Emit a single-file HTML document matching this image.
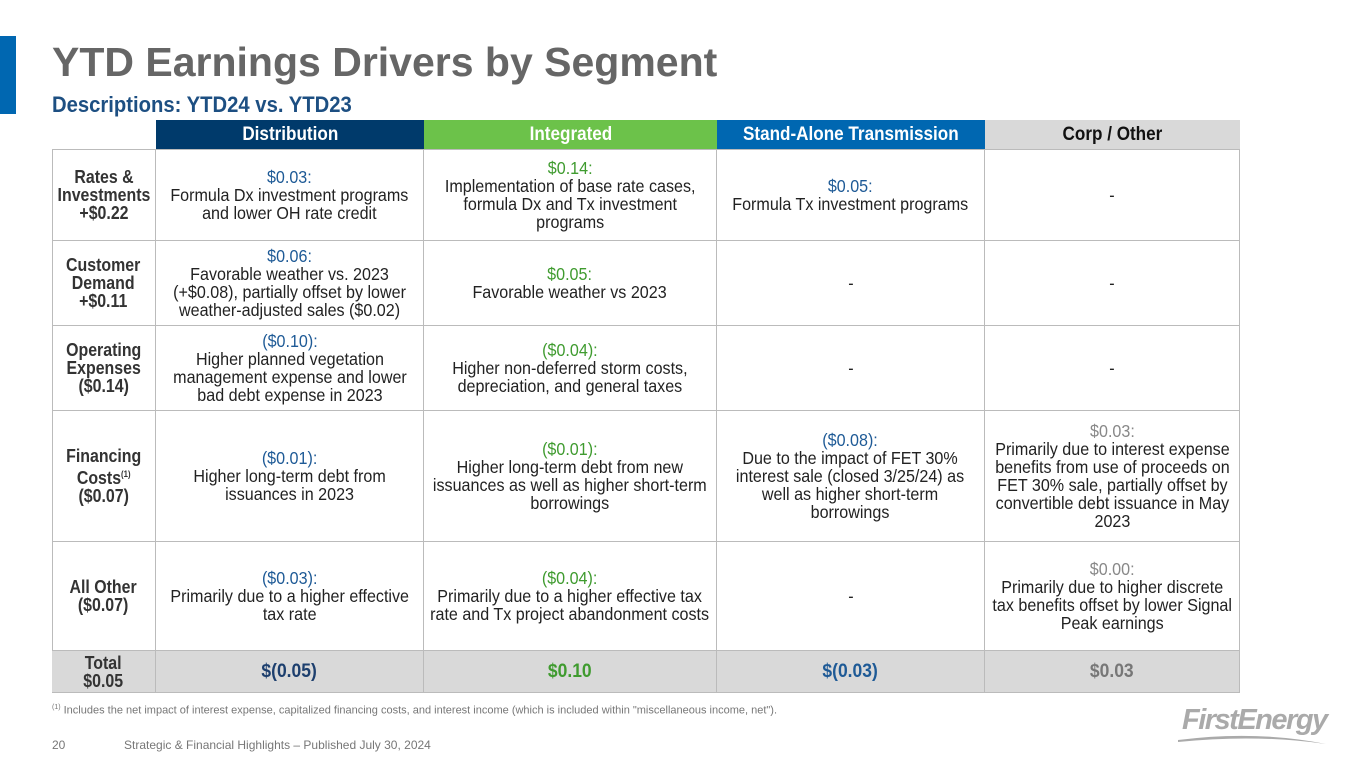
<!DOCTYPE html>
<html><head><meta charset="utf-8"><style>
*{margin:0;padding:0;box-sizing:border-box}
body{width:1365px;height:768px;background:#fff;position:relative;overflow:hidden;font-family:"Liberation Sans",sans-serif}
.a{position:absolute}
.c{position:absolute;display:flex;align-items:center;justify-content:center;text-align:center;font-size:17.5px;line-height:18px;color:#222;white-space:nowrap;border-right:1px solid #bbb;border-bottom:1px solid #bbb}
.c>div{transform:scaleX(0.92)}
.c span{display:block}
.h{font-weight:bold;font-size:19px;color:#fff;border:none}
.h>div{transform:scaleX(0.9)}
.l{font-weight:bold;font-size:18.5px;color:#333}
.l>div{transform:scaleX(0.86)}
.bl{color:#1e5a96}.gr{color:#3f9b2f}.gy{color:#888}
.t{background:#d9d9d9;font-weight:bold;font-size:19px}
</style></head><body>
<div class="a" style="left:0;top:36px;width:16px;height:78px;background:#0067b1"></div>
<div class="a" style="left:52px;top:39px;font-size:41px;font-weight:bold;color:#666">YTD Earnings Drivers by Segment</div>
<div class="a" style="left:52px;top:92px;font-size:22.5px;font-weight:bold;color:#1d4f82;transform:scaleX(0.9);transform-origin:left">Descriptions: YTD24 vs. YTD23</div>
<div id="tbl">
<div class="a" style="left:52px;top:149px;width:1px;height:544px;background:#bbb"></div>
<div class="c h" style="left:156px;top:120px;width:268px;height:29px;background:#003a6b"><div>Distribution</div></div>
<div class="c h" style="left:424px;top:120px;width:293px;height:29px;background:#6cc24a"><div>Integrated</div></div>
<div class="c h" style="left:717px;top:120px;width:268px;height:29px;background:#0067b1"><div>Stand-Alone Transmission</div></div>
<div class="c h" style="left:985px;top:120px;width:255px;height:29px;background:#d9d9d9;color:#111"><div>Corp / Other</div></div>

<div class="c l" style="left:52px;top:149px;width:104px;height:92px;border-top:1px solid #bbb"><div>Rates &amp;<br>Investments<br>+$0.22</div></div>
<div class="c" style="left:156px;top:149px;width:268px;height:92px;border-top:1px solid #bbb"><div><span class="bl">$0.03:</span>Formula Dx investment programs<br>and lower OH rate credit</div></div>
<div class="c" style="left:424px;top:149px;width:293px;height:92px;border-top:1px solid #bbb"><div><span class="gr">$0.14:</span>Implementation of base rate cases,<br>formula Dx and Tx investment<br>programs</div></div>
<div class="c" style="left:717px;top:149px;width:268px;height:92px;border-top:1px solid #bbb"><div><span class="bl">$0.05:</span>Formula Tx investment programs</div></div>
<div class="c" style="left:985px;top:149px;width:255px;height:92px;border-top:1px solid #bbb"><div>-</div></div>

<div class="c l" style="left:52px;top:241px;width:104px;height:85px"><div>Customer<br>Demand<br>+$0.11</div></div>
<div class="c" style="left:156px;top:241px;width:268px;height:85px"><div><span class="bl">$0.06:</span>Favorable weather vs. 2023<br>(+$0.08), partially offset by lower<br>weather-adjusted sales ($0.02)</div></div>
<div class="c" style="left:424px;top:241px;width:293px;height:85px"><div><span class="gr">$0.05:</span>Favorable weather vs 2023</div></div>
<div class="c" style="left:717px;top:241px;width:268px;height:85px"><div>-</div></div>
<div class="c" style="left:985px;top:241px;width:255px;height:85px"><div>-</div></div>

<div class="c l" style="left:52px;top:326px;width:104px;height:85px"><div>Operating<br>Expenses<br>($0.14)</div></div>
<div class="c" style="left:156px;top:326px;width:268px;height:85px"><div><span class="bl">($0.10):</span>Higher planned vegetation<br>management expense and lower<br>bad debt expense in 2023</div></div>
<div class="c" style="left:424px;top:326px;width:293px;height:85px"><div><span class="gr">($0.04):</span>Higher non-deferred storm costs,<br>depreciation, and general taxes</div></div>
<div class="c" style="left:717px;top:326px;width:268px;height:85px"><div>-</div></div>
<div class="c" style="left:985px;top:326px;width:255px;height:85px"><div>-</div></div>

<div class="c l" style="left:52px;top:411px;width:104px;height:131px"><div>Financing<br>Costs<sup style="font-size:9px">(1)</sup><br>($0.07)</div></div>
<div class="c" style="left:156px;top:411px;width:268px;height:131px"><div><span class="bl">($0.01):</span>Higher long-term debt from<br>issuances in 2023</div></div>
<div class="c" style="left:424px;top:411px;width:293px;height:131px"><div><span class="gr">($0.01):</span>Higher long-term debt from new<br>issuances as well as higher short-term<br>borrowings</div></div>
<div class="c" style="left:717px;top:411px;width:268px;height:131px"><div><span class="bl">($0.08):</span>Due to the impact of FET 30%<br>interest sale (closed 3/25/24) as<br>well as higher short-term<br>borrowings</div></div>
<div class="c" style="left:985px;top:411px;width:255px;height:131px"><div><span class="gy">$0.03:</span>Primarily due to interest expense<br>benefits from use of proceeds on<br>FET 30% sale, partially offset by<br>convertible debt issuance in May<br>2023</div></div>

<div class="c l" style="left:52px;top:542px;width:104px;height:109px"><div>All Other<br>($0.07)</div></div>
<div class="c" style="left:156px;top:542px;width:268px;height:109px"><div><span class="bl">($0.03):</span>Primarily due to a higher effective<br>tax rate</div></div>
<div class="c" style="left:424px;top:542px;width:293px;height:109px"><div><span class="gr">($0.04):</span>Primarily due to a higher effective tax<br>rate and Tx project abandonment costs</div></div>
<div class="c" style="left:717px;top:542px;width:268px;height:109px"><div>-</div></div>
<div class="c" style="left:985px;top:542px;width:255px;height:109px"><div><span class="gy">$0.00:</span>Primarily due to higher discrete<br>tax benefits offset by lower Signal<br>Peak earnings</div></div>

<div class="c l t" style="left:52px;top:651px;width:104px;height:42px;font-size:18.5px;line-height:18px"><div>Total<br>$0.05</div></div>
<div class="c t" style="left:156px;top:651px;width:268px;height:42px;color:#1d3f6e"><div>$(0.05)</div></div>
<div class="c t" style="left:424px;top:651px;width:293px;height:42px;color:#3f9b2f"><div>$0.10</div></div>
<div class="c t" style="left:717px;top:651px;width:268px;height:42px;color:#1e5a96"><div>$(0.03)</div></div>
<div class="c t" style="left:985px;top:651px;width:255px;height:42px;color:#777"><div>$0.03</div></div>
</div>
<div class="a" style="left:52px;top:704px;font-size:11px;color:#777"><sup style="font-size:7px">(1)</sup> Includes the net impact of interest expense, capitalized financing costs, and interest income (which is included within "miscellaneous income, net").</div>
<div class="a" style="left:52px;top:738px;font-size:12px;color:#777">20</div>
<div class="a" style="left:124px;top:738px;font-size:12px;color:#777">Strategic &amp; Financial Highlights – Published July 30, 2024</div>
<div class="a" style="left:1182px;top:704px;font-size:29px;font-weight:bold;font-style:italic;color:#aaa;letter-spacing:-1.5px">FirstEnergy</div>
<svg class="a" style="left:1176px;top:730px" width="160" height="20"><path d="M2 10 Q80 0 150 14 Q80 4 2 12Z" fill="#aaa"/></svg>
</body></html>
